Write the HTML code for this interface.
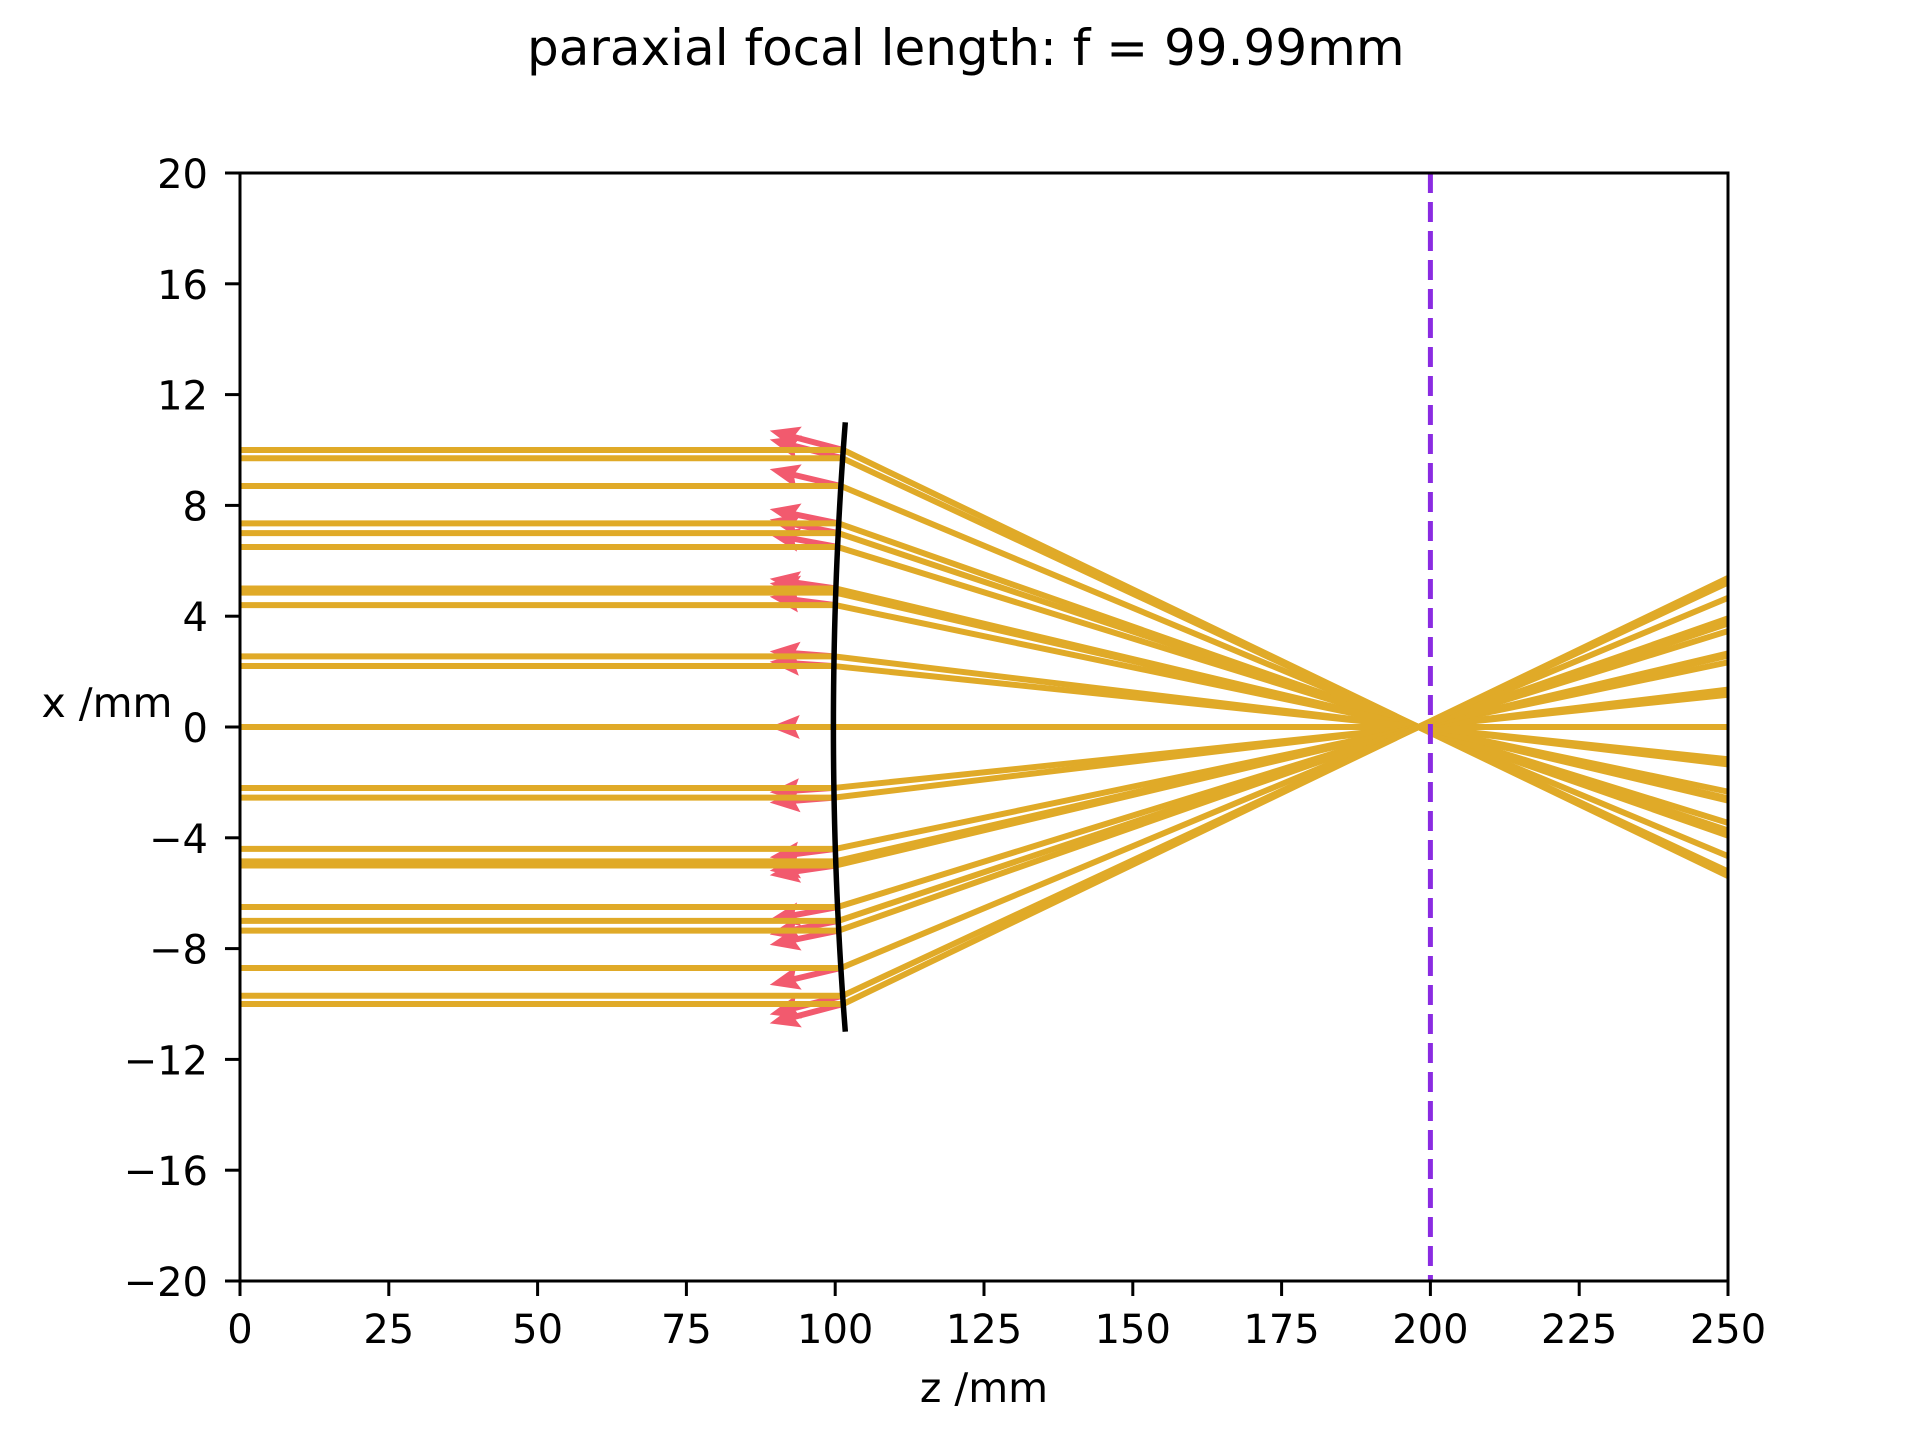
<!DOCTYPE html>
<html><head><meta charset="utf-8"><style>
html,body{margin:0;padding:0;background:#fff}
svg text{font-family:"DejaVu Sans","Liberation Sans",sans-serif;fill:#000}
</style></head><body>
<svg id="chart" width="1920" height="1440" viewBox="0 0 1920 1440" xmlns="http://www.w3.org/2000/svg">
<rect width="1920" height="1440" fill="#fff"/>
<text x="527" y="65" font-size="50">paraxial focal length: f = 99.99mm</text>
<g id="plot"></g>
<text x="984" y="1402" font-size="41" text-anchor="middle">z /mm</text>
<text x="107" y="717" font-size="41" text-anchor="middle">x /mm</text>
</svg>
<script>
const rayHeights = [10.0, 9.7, 8.7, 7.35, 7.0, 6.5, 5.0, 4.85, 4.4, 2.55, 2.2, 0, -2.2, -2.55, -4.4, -4.85, -5.0, -6.5, -7.0, -7.35, -8.7, -9.7, -10.0];
const xTicks = [0, 25, 50, 75, 100, 125, 150, 175, 200, 225, 250];
const yTicks = [20, 16, 12, 8, 4, 0, -4, -8, -12, -16, -20];
const focusZ = 198;
const detectorZ = 200;
const lensVertexZ = 99.7;
const lensCurv = 0.0165;
const lensHalfHeight = 11;
const arrowTipZ = 89;
const arrowScale = 1.07;

const L=240,R=1728,T=173,B=1281;
const sx=z=>L+(z-0)/(250-0)*(R-L);
const sy=x=>T+(20-x)/40*(B-T);
const NS='http://www.w3.org/2000/svg';
const plot=document.getElementById('plot');
function mk(tag,attrs,parent){const e=document.createElementNS(NS,tag);for(const k in attrs)e.setAttribute(k,attrs[k]);(parent||plot).appendChild(e);return e;}
const lensZ=x=>lensVertexZ+lensCurv*x*x;

rayHeights.forEach((h,i)=>{
  const zl=lensZ(h);
  const x0=sx(zl),y0=sy(h),x1=sx(arrowTipZ),y1=sy(h*arrowScale);
  const dx=x1-x0,dy=y1-y0,len=Math.hypot(dx,dy),ux=dx/len,uy=dy/len,nx=-uy,ny=ux;
  const hl=26,hw=12,sw=3;
  const bx=x1-ux*hl,by=y1-uy*hl;
  const pts=[[x0+nx*sw,y0+ny*sw],[bx+nx*sw,by+ny*sw],[bx-ux*4+nx*hw,by-uy*4+ny*hw],[x1,y1],[bx-ux*4-nx*hw,by-uy*4-ny*hw],[bx-nx*sw,by-ny*sw],[x0-nx*sw,y0-ny*sw]];
  const a=mk('polygon',{points:pts.map(p=>p.join(',')).join(' '),fill:'#f25a6e'});
  
  
});
rayHeights.forEach((h,i)=>{
  const zl=lensZ(h);
  const slope=-h/(focusZ-zl);
  const xe=h+slope*(250-zl);
  const p=mk('polyline',{points:`${sx(0)},${sy(h)} ${sx(zl)},${sy(h)} ${sx(250)},${sy(xe)}`,fill:'none',stroke:'#e0aa28','stroke-width':6,'stroke-linejoin':'round'});
  
  
});
{
  let pts=[];for(let x=-lensHalfHeight;x<=lensHalfHeight+1e-9;x+=0.5)pts.push(`${sx(lensZ(x))},${sy(x)}`);
  const l=mk('polyline',{points:pts.join(' '),fill:'none',stroke:'#000','stroke-width':5.5});
  
  
}
{
  const d=mk('line',{x1:sx(detectorZ),x2:sx(detectorZ),y1:T,y2:B,stroke:'#8a2be2','stroke-width':5,'stroke-dasharray':'20 9'});
  
  
}
{
  const f=mk('rect',{x:L,y:T,width:R-L,height:B-T,fill:'none',stroke:'#000','stroke-width':3});
  
  
}
xTicks.forEach(v=>{
  const t=mk('line',{x1:sx(v),x2:sx(v),y1:B,y2:B+15,stroke:'#000','stroke-width':3});
  
  
  const tx=mk('text',{x:sx(v),y:1343,'font-size':40,'text-anchor':'middle'});
  tx.textContent=String(v);
  
  
});
yTicks.forEach(v=>{
  const t=mk('line',{x1:L-15,x2:L,y1:sy(v),y2:sy(v),stroke:'#000','stroke-width':3});
  
  
  const tx=mk('text',{x:208,y:sy(v)+15,'font-size':40,'text-anchor':'end'});
  tx.textContent=v<0?'\u2212'+Math.abs(v):String(v);
  
  
});
</script>
</body></html>
